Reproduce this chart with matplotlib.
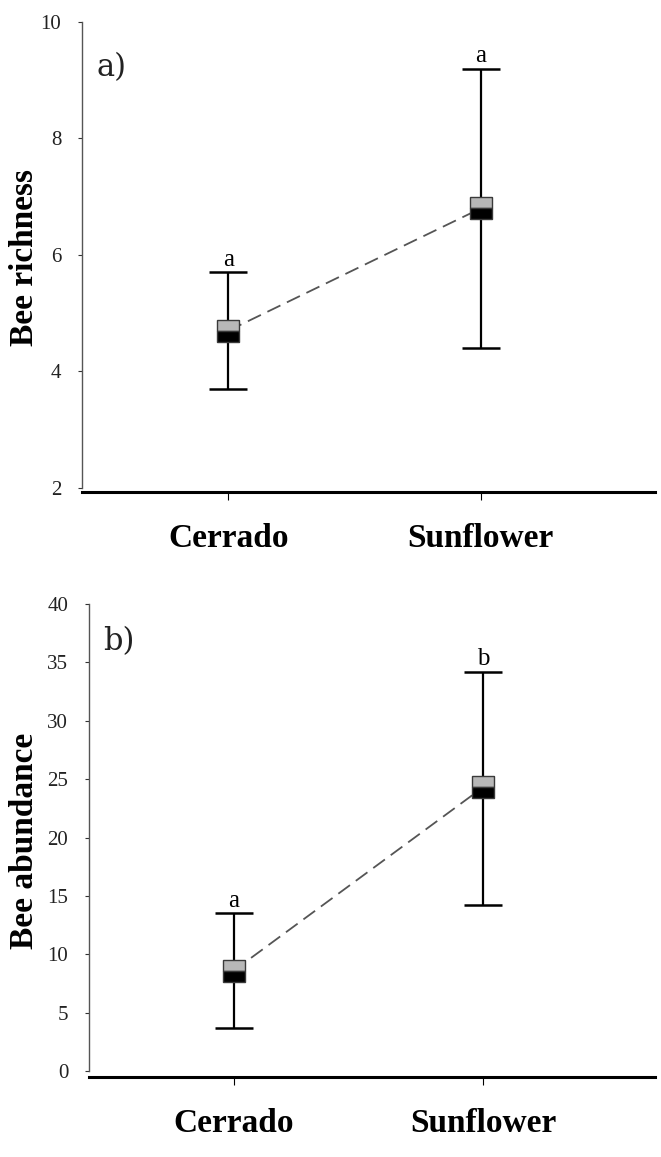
import numpy as np
import matplotlib
matplotlib.use("Agg")
import matplotlib.pyplot as plt

# data
sites = ["Cerrado", "Sunflower"]
rich_mean = [4.7, 6.8]
rich_low = [3.7, 4.4]
rich_high = [5.7, 9.2]
rich_letters = ["a", "a"]

abund_mean = [8.6, 24.3]
abund_low = [3.7, 14.2]
abund_high = [13.5, 34.2]
abund_letters = ["a", "b"]

plt.rcParams["font.family"] = ["Liberation Serif", "DejaVu Serif"]

fig = plt.figure(figsize=(6.61, 11.57), dpi=100)
H = 1157.0
W = 661.0


def make_axes(left, right, top, bottom):
    return fig.add_axes([left / W, (H - bottom) / H, (right - left) / W, (bottom - top) / H])


def panel(ax, mean, low, high, letters, ylim, yticks, ylabel, tag, tagy, labx):
    x = np.arange(1, len(mean) + 1)
    mean = np.array(mean)
    err = [mean - np.array(low), np.array(high) - mean]
    ax.plot(x, mean, color="#555555", lw=1.3, dashes=(8, 4), zorder=1)
    ax.errorbar(x, mean, yerr=err, fmt="none", ecolor="black", elinewidth=1.6,
                capsize=14, capthick=1.8, zorder=2)
    ax.plot(x, mean, ls="none", marker="s", markersize=16, fillstyle="top",
            markerfacecolor="#b8b8b8", markerfacecoloralt="black",
            markeredgecolor="#3a3a3a", markeredgewidth=1.0, zorder=3)
    for xi, hi, lab in zip(x, high, letters):
        ax.annotate(lab, (xi, hi), xytext=(0, 1), textcoords="offset points",
                    ha="center", va="bottom", fontsize=18)
    ax.set_xlim(0.42, 2.69)
    ax.set_ylim(*ylim)
    ax.set_yticks(yticks)
    ax.set_xticks(x)
    ax.set_xticklabels(sites, fontsize=24, fontweight="bold")
    ax.tick_params(axis="y", labelsize=15, length=3, width=0.8, pad=12, colors="#333333",
                   labelcolor="#222222")
    ax.tick_params(axis="x", length=6, width=0.8, pad=16)
    for s in ["top", "right"]:
        ax.spines[s].set_visible(False)
    ax.spines["left"].set_bounds(yticks[0], yticks[-1])
    ax.spines["left"].set_color("#555555")
    ax.spines["left"].set_linewidth(1.0)
    ax.spines["bottom"].set_linewidth(2.2)
    ax.set_ylabel(ylabel, fontsize=24, fontweight="bold")
    ax.yaxis.set_label_coords(labx, 0.5)
    ax.text(0.025, tagy, tag, transform=ax.transAxes, fontsize=22,
            family="DejaVu Serif", color="#222222", va="center", ha="left")


ax1 = make_axes(82, 655, 22, 492)
panel(ax1, rich_mean, rich_low, rich_high, rich_letters, (1.93, 10), [2, 4, 6, 8, 10],
      "Bee richness", "a)", 0.904, -0.073)

ax2 = make_axes(89, 655, 604, 1077)
panel(ax2, abund_mean, abund_low, abund_high, abund_letters, (-0.5, 40),
      [0, 5, 10, 15, 20, 25, 30, 35, 40], "Bee abundance", "b)", 0.92, -0.087)

fig.savefig("out.png", dpi=100)
